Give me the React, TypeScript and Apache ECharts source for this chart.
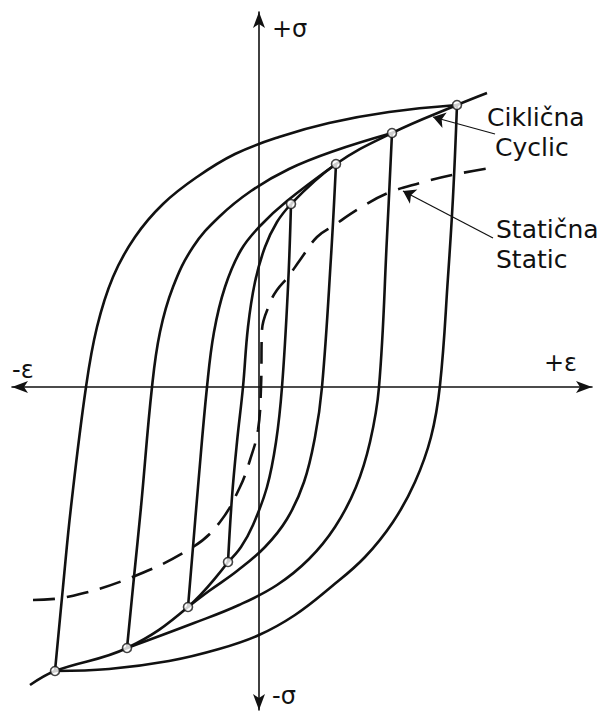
import React, { useEffect, useRef } from "react";
import * as echarts from "echarts";

// Coordinates: strain ε (horizontal) and stress σ (vertical), arbitrary units
const loop4Asc = [[-204,-284],[-196,-200],[-188,-120],[-173,0],[-162,60],[-146,110],[-124,150],[-96,183],[-62,210],[-24,233],[20,250],[70,264],[130,275],[198,282]];
const loop4Desc = [[198,282],[194,190],[189,110],[181,2],[172,-50],[156,-95],[134,-135],[106,-170],[72,-200],[36,-228],[0,-248],[-40,-262],[-90,-274],[-150,-282],[-204,-284]];
const loop3Asc = [[-132,-261],[-125,-190],[-118,-120],[-107,0],[-99,55],[-86,100],[-66,140],[-40,170],[-8,196],[30,218],[75,236],[133,254]];
const loop3Desc = [[133,254],[128,150],[120,0],[111,-55],[97,-100],[76,-140],[50,-172],[18,-198],[-20,-218],[-65,-236],[-132,-261]];
const loop2Asc = [[-71,-220],[-66,-160],[-61,-100],[-52,0],[-45,55],[-34,100],[-18,137],[2,162],[28,186],[77,223]];
const loop2Desc = [[77,223],[72,130],[63,0],[56,-50],[45,-95],[28,-132],[6,-160],[-22,-184],[-50,-204],[-71,-220]];
const loop1Asc = [[-31,-175],[-27,-110],[-22,-55],[-16,0],[-11,60],[-4,105],[6,140],[18,165],[32,183]];
const loop1Desc = [[32,183],[29,100],[23,0],[17,-55],[8,-100],[-6,-138],[-18,-160],[-31,-175]];
const cyclicLower = [[-229,-298],[-204,-284],[-132,-261],[-71,-220],[-31,-175]];
const cyclicUpper = [[32,183],[77,223],[133,254],[198,282],[228,294]];
const staticCurve = [[-226,-213],[-192,-210],[-129,-191],[-66,-160],[-39,-135],[-19,-100],[-9,-73],[-1,-43],[2,0],[3,57],[11,84],[18,97],[29,110],[41,127],[58,150],[74,161],[101,179],[129,194],[161,204],[193,212],[231,219]];
const tips = [[198,282],[133,254],[77,223],[32,183],[-31,-175],[-71,-220],[-132,-261],[-204,-284]];
const cyclicLeader = [[174,270],[236,253]];
const staticLeader = [[144,196],[234,149]];
const curveLabels = [
  { text: "Ciklična", x: 487, y: 117 },
  { text: "Cyclic", x: 495, y: 147 },
  { text: "Statična", x: 496, y: 229 },
  { text: "Static", x: 496, y: 259 },
];
const axisLabels = [
  { text: "+σ", x: 272, y: 29 },
  { text: "-σ", x: 272, y: 696 },
  { text: "+ε", x: 544, y: 363 },
  { text: "-ε", x: 12, y: 370 },
];

const INK = "#111";

export default function App() {
  const ref = useRef<HTMLDivElement>(null);
  useEffect(() => {
    if (!ref.current) return;
    const chart = echarts.init(ref.current, null, { renderer: "svg" });
    const branch = (data: number[][]) => ({
      type: "line",
      data,
      smooth: 0.4,
      symbol: "none",
      showSymbol: false,
      clip: false,
      silent: true,
      lineStyle: { color: INK, width: 2.6 },
    });
    const axisCommon = {
      type: "value",
      axisLabel: { show: false },
      axisTick: { show: false },
      splitLine: { show: false },
      axisLine: {
        show: true,
        onZero: true,
        symbol: ["arrow", "arrow"],
        symbolSize: [9, 16],
        lineStyle: { color: INK, width: 1.6 },
      },
    };
    chart.setOption({
      animation: false,
      backgroundColor: "#fff",
      grid: { left: 12, right: 16, top: 12, bottom: 2 },
      xAxis: { ...axisCommon, min: -247, max: 333 },
      yAxis: { ...axisCommon, min: -323, max: 375 },
      series: [
        branch(loop4Asc),
        branch(loop4Desc),
        branch(loop3Asc),
        branch(loop3Desc),
        branch(loop2Asc),
        branch(loop2Desc),
        branch(loop1Asc),
        branch(loop1Desc),
        branch(cyclicLower),
        branch(cyclicUpper),
        {
          ...branch(staticCurve),
          lineStyle: { color: INK, width: 2.6, type: [22, 12] },
        },
        {
          type: "lines",
          coordinateSystem: "cartesian2d",
          silent: true,
          symbol: ["arrow", "none"],
          symbolSize: [12, 0],
          lineStyle: { color: INK, width: 1.2, opacity: 1 },
          data: [{ coords: cyclicLeader }, { coords: staticLeader }],
        },
        {
          type: "scatter",
          data: tips,
          symbol: "circle",
          symbolSize: 9,
          silent: true,
          clip: false,
          itemStyle: { color: "#fff", borderColor: INK, borderWidth: 1.6 },
          z: 5,
        },
      ],
      graphic: [...curveLabels, ...axisLabels].map((l, i) => ({
        type: "text",
        x: l.x,
        y: l.y,
        z: 10,
        style: {
          text: l.text,
          fill: INK,
          font: i < 4 ? '25px "DejaVu Sans"' : '24px "DejaVu Sans"',
          textVerticalAlign: "middle",
          textAlign: "left",
        },
      })),
    });
    return () => chart.dispose();
  }, []);
  return (
    <div
      ref={ref}
      style={{ position: "fixed", left: 0, top: 0, width: 608, height: 712, background: "#fff" }}
    />
  );
}
